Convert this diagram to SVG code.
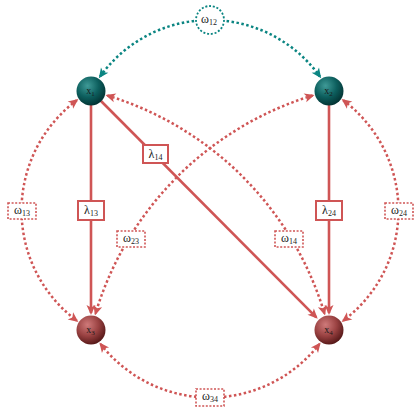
<svg xmlns="http://www.w3.org/2000/svg" width="420" height="420" viewBox="0 0 420 420">
<style>
.red{fill:none;stroke:#cf5555}
.dot{stroke-width:2.5;stroke-dasharray:2.5 2.5}
.solid{stroke-width:2.6}
.teal{fill:none;stroke:#0b8582}
.lbl{font-family:"Liberation Serif","DejaVu Serif",serif;font-size:12px;fill:#222;text-anchor:middle}
.nl{font-family:"Liberation Serif","DejaVu Serif",serif;font-size:10px;fill:#1a1a1a;text-anchor:middle}
.wbox{fill:#fff;stroke:#cf5555;stroke-width:1.6;stroke-dasharray:2 1.6}
.lbox{fill:#fff;stroke:#cf5555;stroke-width:2}
</style>
<defs>
<marker id="ar" viewBox="-10 -6 14 12" refX="0" refY="0" markerWidth="14" markerHeight="12" markerUnits="userSpaceOnUse" orient="auto-start-reverse">
<path d="M2,0 L-8,-4.5 L-5.5,0 L-8,4.5 Z" fill="#cf5555"/>
</marker>
<marker id="at" viewBox="-10 -6 14 12" refX="0" refY="0" markerWidth="14" markerHeight="12" markerUnits="userSpaceOnUse" orient="auto-start-reverse">
<path d="M2,0 L-8,-4.5 L-5.5,0 L-8,4.5 Z" fill="#0b8582"/>
</marker>
<radialGradient id="gt" cx="0.38" cy="0.32" r="0.7">
<stop offset="0" stop-color="#3f9a97"/>
<stop offset="0.55" stop-color="#0d5f5e"/>
<stop offset="1" stop-color="#033333"/>
</radialGradient>
<radialGradient id="gr" cx="0.38" cy="0.32" r="0.7">
<stop offset="0" stop-color="#cf7a7a"/>
<stop offset="0.55" stop-color="#9a4242"/>
<stop offset="1" stop-color="#561818"/>
</radialGradient>
</defs>
<g id="connectors">
<path class="teal dot" d="M100,76.6 A135.2,135.2 0 0 1 320,76.6" marker-start="url(#at)" marker-end="url(#at)"/>
<path class="red dot" d="M100.6,344 A138.6,138.6 0 0 0 319.4,344" marker-start="url(#ar)" marker-end="url(#ar)"/>
<path class="red dot" d="M76.8,100.3 A137.5,137.5 0 0 0 76.8,320.7" marker-start="url(#ar)" marker-end="url(#ar)"/>
<path class="red dot" d="M343.2,100.3 A137.5,137.5 0 0 1 343.2,320.7" marker-start="url(#ar)" marker-end="url(#ar)"/>
<path class="red dot" d="M107.4,95.5 A326,326 0 0 1 324.5,313.6" marker-start="url(#ar)" marker-end="url(#ar)"/>
<path class="red dot" d="M312.6,95.5 A326,326 0 0 0 95.5,313.6" marker-start="url(#ar)" marker-end="url(#ar)"/>
<path class="red solid" d="M91,105 L91,313" marker-end="url(#ar)"/>
<path class="red solid" d="M329,105 L329,313" marker-end="url(#ar)"/>
<path class="red solid" d="M101,101 L316.3,317.3" marker-end="url(#ar)"/>
</g>
<g id="labels">
<g id="w12"><circle cx="210" cy="20" r="14" fill="#fff" stroke="#0b8582" stroke-width="1.8" stroke-dasharray="2 1.8"/><text class="lbl" x="209" y="23">ω<tspan font-size="8" dy="2">12</tspan></text></g>
<g id="w13"><rect class="wbox" x="8" y="203" width="28" height="16"/><text class="lbl" x="22" y="214">ω<tspan font-size="8" dy="2">13</tspan></text></g>
<g id="w24"><rect class="wbox" x="385" y="203" width="28" height="16"/><text class="lbl" x="399" y="214">ω<tspan font-size="8" dy="2">24</tspan></text></g>
<g id="w34"><rect class="wbox" x="196" y="389" width="28" height="17"/><text class="lbl" x="210" y="400">ω<tspan font-size="8" dy="2">34</tspan></text></g>
<g id="w23"><rect class="wbox" x="117" y="231" width="28" height="16"/><text class="lbl" x="131" y="242">ω<tspan font-size="8" dy="2">23</tspan></text></g>
<g id="w14"><rect class="wbox" x="275" y="231" width="28" height="16"/><text class="lbl" x="289" y="242">ω<tspan font-size="8" dy="2">14</tspan></text></g>
<g id="l13"><rect class="lbox" x="78" y="201" width="26" height="19"/><text class="lbl" x="91" y="214">λ<tspan font-size="8" dy="2">13</tspan></text></g>
<g id="l24"><rect class="lbox" x="316" y="201" width="26" height="19"/><text class="lbl" x="329" y="214">λ<tspan font-size="8" dy="2">24</tspan></text></g>
<g id="l14"><rect class="lbox" x="143" y="145" width="25" height="18"/><text class="lbl" x="155.5" y="157.5">λ<tspan font-size="8" dy="2">14</tspan></text></g>
</g>
<g id="x1"><circle cx="91" cy="91" r="14.5" fill="url(#gt)"/><text class="nl" x="90.5" y="94">x<tspan font-size="7" dy="2">1</tspan></text></g>
<g id="x2"><circle cx="329" cy="91" r="14.5" fill="url(#gt)"/><text class="nl" x="328.5" y="94">x<tspan font-size="7" dy="2">2</tspan></text></g>
<g id="x3"><circle cx="91" cy="330" r="14.5" fill="url(#gr)"/><text class="nl" x="90.5" y="333">x<tspan font-size="7" dy="2">3</tspan></text></g>
<g id="x4"><circle cx="329" cy="330" r="14.5" fill="url(#gr)"/><text class="nl" x="328.5" y="333">x<tspan font-size="7" dy="2">4</tspan></text></g>
</svg>
